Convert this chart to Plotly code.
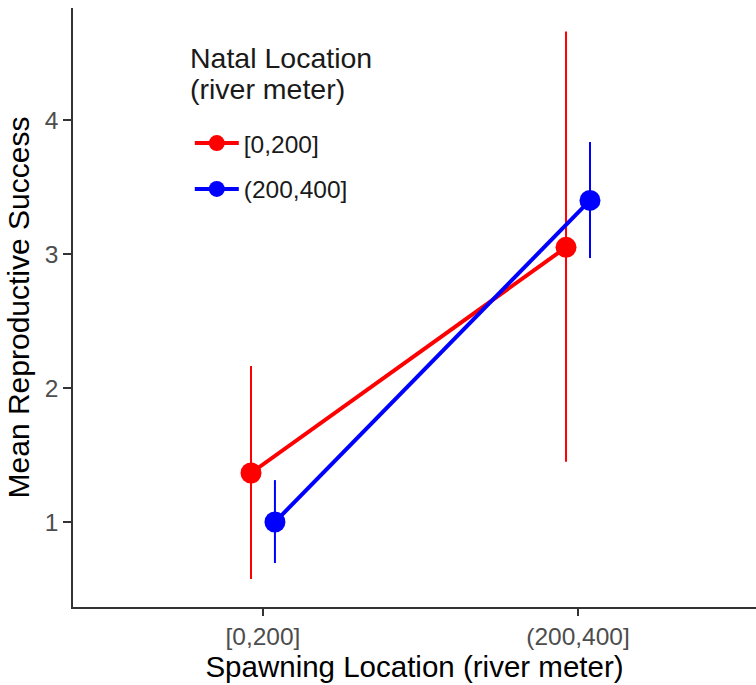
import plotly.graph_objects as go

spawning = ["[0,200]", "(200,400]"]
natal = ["[0,200]", "(200,400]"]
colors = ["#FF0000", "#0000FF"]
means = {
    "[0,200]": [1.366, 3.05],
    "(200,400]": [1.00, 3.40],
}
upper = {
    "[0,200]": [2.164, 4.66],
    "(200,400]": [1.313, 3.836],
}
lower = {
    "[0,200]": [0.575, 1.45],
    "(200,400]": [0.694, 2.97],
}
legend_title_lines = ["Natal Location", "(river meter)"]

dodge = 0.038
xpos = [1, 2]

fig = go.Figure()
for i, (grp, col) in enumerate(zip(natal, colors)):
    off = (-1 if i == 0 else 1) * dodge
    xs = [x + off for x in xpos]
    m = means[grp]
    fig.add_trace(go.Scatter(
        x=xs, y=m, mode="lines+markers", name=grp, legendgroup=grp,
        line=dict(color=col, width=4),
        marker=dict(color=col, size=21),
        error_y=dict(type="data", symmetric=False,
                     array=[u - v for u, v in zip(upper[grp], m)],
                     arrayminus=[v - l for v, l in zip(m, lower[grp])],
                     color=col, thickness=2, width=0),
    ))

for txt, yy in zip(legend_title_lines, [0.9157, 0.8656]):
    fig.add_annotation(
        text=txt, xref="paper", yref="paper", x=0.168, y=yy,
        xanchor="left", yanchor="middle", showarrow=False,
        font=dict(size=28.5, color="#1a1a1a"),
    )

fig.update_layout(
    width=756, height=685,
    margin=dict(l=73, r=0, t=8, b=78, autoexpand=False),
    paper_bgcolor="white", plot_bgcolor="white",
    font=dict(family="Liberation Sans, Arial, sans-serif", color="black"),
    legend=dict(
        font=dict(size=24.5, color="#1a1a1a"),
        x=0.171, y=0.812, xanchor="left", yanchor="top",
        bgcolor="rgba(0,0,0,0)", itemwidth=44, tracegroupgap=11,
    ),
    xaxis=dict(
        range=[0.397, 2.565], tickvals=xpos, ticktext=spawning, automargin=False,
        showgrid=False, zeroline=False, showline=True, linecolor="#333333", linewidth=1.5,
        ticks="outside", ticklen=7, tickcolor="#333333", tickwidth=1.5,
        tickfont=dict(size=24.5, color="#4D4D4D"),
        title=dict(text="Spawning Location (river meter)", font=dict(size=29.5, color="black"), standoff=4),
    ),
    yaxis=dict(
        range=[0.366, 4.836], tickvals=[1, 2, 3, 4], automargin=False,
        showgrid=False, zeroline=False, showline=True, linecolor="#333333", linewidth=1.5,
        ticks="outside", ticklen=8, tickcolor="#333333", tickwidth=1.5,
        tickfont=dict(size=24.5, color="#4D4D4D"),
        title=dict(text="Mean Reproductive Success", font=dict(size=30, color="black"), standoff=6),
    ),
)

fig.write_html("out.html", config={"displayModeBar": False},
               post_script="document.body.style.margin='0';document.body.style.overflow='hidden';")
